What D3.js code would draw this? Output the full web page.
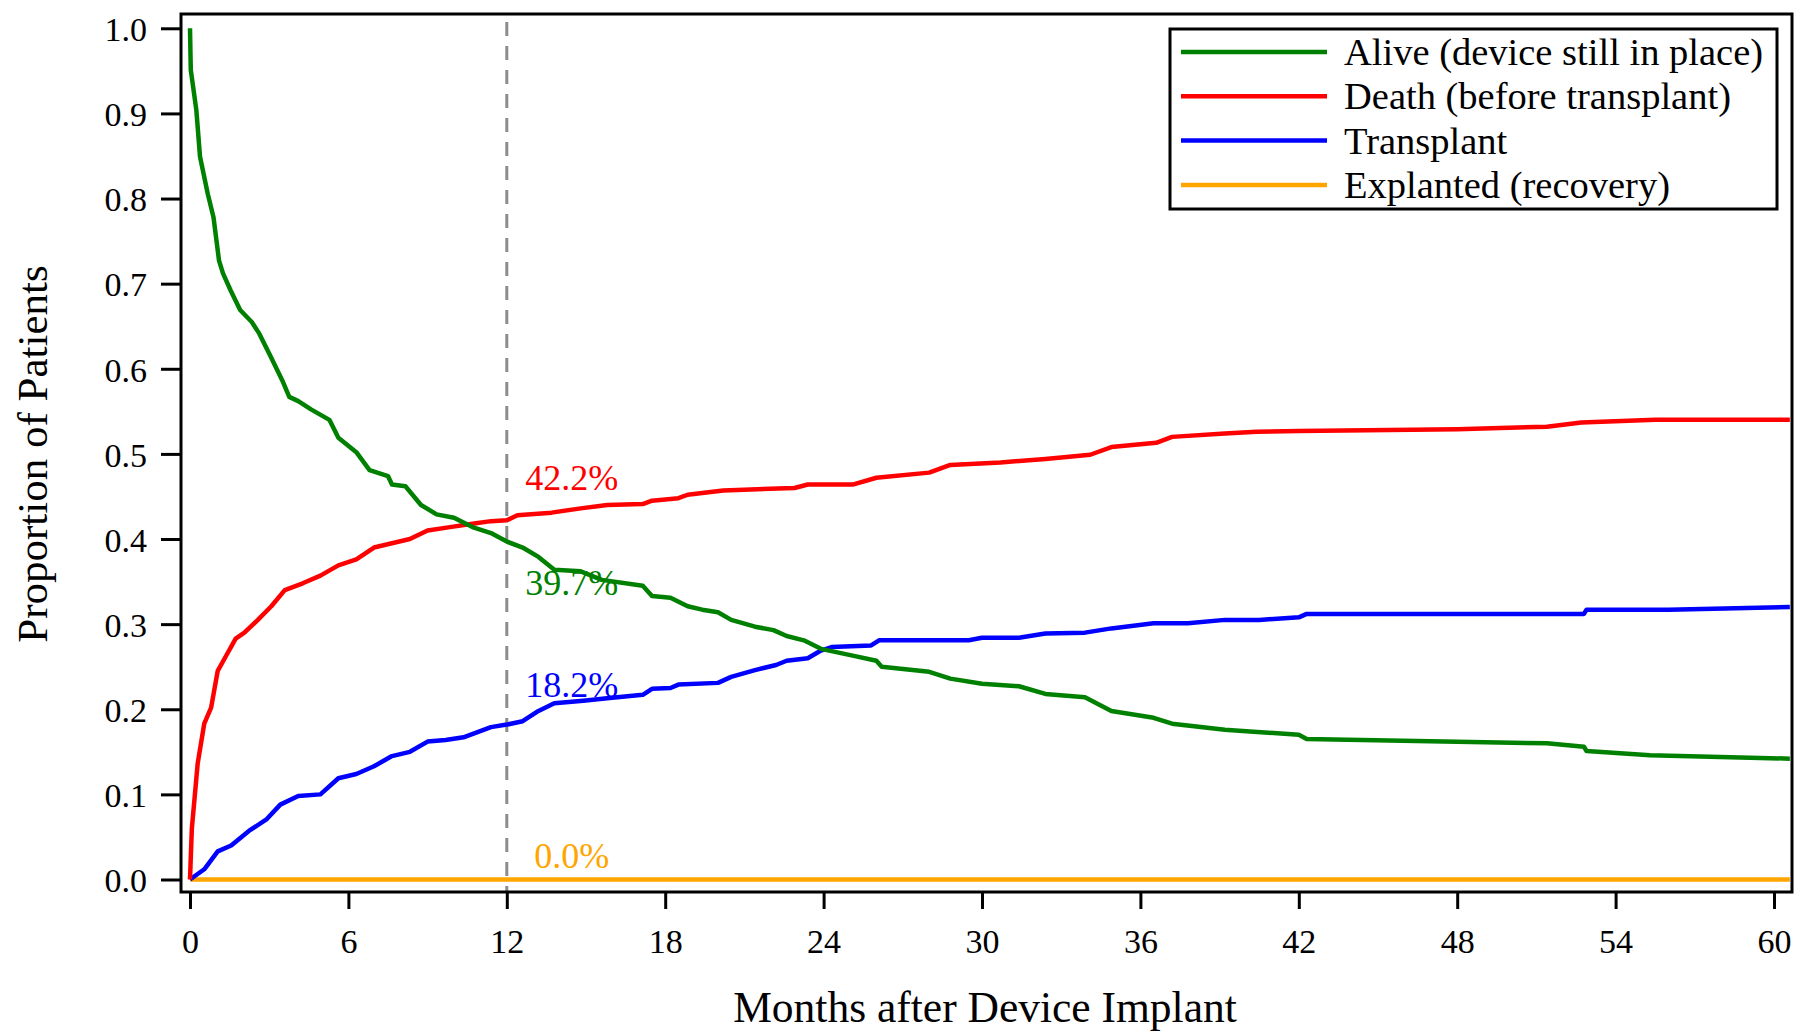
<!DOCTYPE html>
<html>
<head>
<meta charset="utf-8">
<script src="https://d3js.org/d3.v7.min.js"></script>
<style>
    body { margin: 0; background: #fff; }
    svg text { font-family: "Liberation Serif", "Times New Roman", serif; fill: #000; }
</style>
</head>
<body>
<script>
(function(){

//series, [month, proportion]
var alive = [[0,1.0],[0.03,0.951],[0.24,0.904],[0.38,0.849],[0.67,0.806],[0.89,0.778],[1.1,0.727],[1.25,0.712],
    [1.54,0.692],[1.9,0.669],[2.34,0.655],[2.63,0.641],[3.06,0.614],[3.5,0.586],[3.76,0.567],[4.1,0.562],[4.6,0.552],
    [5.28,0.540],[5.62,0.519],[6.3,0.502],[6.8,0.481],[7.5,0.474],[7.65,0.464],[8.16,0.462],[8.75,0.440],[9.34,0.429],
    [10.0,0.425],[10.7,0.414],[11.4,0.407],[12,0.397],[12.6,0.390],[13.2,0.379],[13.8,0.364],[14.8,0.362],[15.6,0.352],
    [17.15,0.345],[17.5,0.333],[18.2,0.331],[18.85,0.321],[19.4,0.317],[20.0,0.314],[20.5,0.305],[21.4,0.297],
    [22.1,0.293],[22.6,0.286],[23.25,0.281],[23.9,0.271],[25.1,0.263],[26.0,0.257],[26.2,0.250],[28,0.244],
    [28.8,0.236],[30,0.230],[31.4,0.227],[32.4,0.218],[33.9,0.214],[34.9,0.198],[36.5,0.190],[37.2,0.183],
    [39.2,0.176],[40.15,0.174],[42,0.170],[42.3,0.165],[51.4,0.160],[52.8,0.156],[52.9,0.151],[55.3,0.146],[60.6,0.142]];

var death = [[0,0],[0.07,0.06],[0.29,0.136],[0.54,0.183],[0.8,0.202],[1.05,0.245],[1.39,0.264],[1.73,0.283],
    [2.06,0.290],[2.57,0.305],[3.08,0.321],[3.59,0.340],[4.27,0.348],[4.94,0.357],[5.62,0.369],[6.3,0.376],
    [6.97,0.390],[7.65,0.395],[8.33,0.400],[9.0,0.410],[9.85,0.414],[10.7,0.418],[11.4,0.421],[12,0.422],
    [12.4,0.428],[13.7,0.431],[14.8,0.436],[15.8,0.440],[17.15,0.441],[17.5,0.445],[18.5,0.448],[18.85,0.452],
    [20.2,0.457],[22.9,0.460],[23.4,0.464],[25.1,0.464],[26.0,0.472],[28,0.478],[28.8,0.487],[30.7,0.490],
    [32.4,0.494],[34.1,0.499],[34.9,0.508],[36.6,0.513],[37.2,0.520],[39.2,0.524],[40.4,0.526],[42,0.527],
    [48,0.529],[51.4,0.532],[52.7,0.537],[55.5,0.540],[60.6,0.540]];

var transplant = [[0,0],[0.54,0.012],[1.05,0.033],[1.56,0.040],[2.23,0.057],[2.91,0.071],[3.42,0.088],[4.1,0.098],
    [4.94,0.100],[5.62,0.119],[6.3,0.124],[6.97,0.133],[7.65,0.145],[8.33,0.150],[9.0,0.162],[9.68,0.164],
    [10.36,0.167],[11.4,0.179],[12,0.182],[12.6,0.186],[13.2,0.198],[13.8,0.207],[14.9,0.210],[15.8,0.213],
    [17.15,0.217],[17.5,0.224],[18.2,0.225],[18.5,0.229],[20.0,0.231],[20.5,0.238],[21.4,0.246],[22.2,0.252],
    [22.6,0.257],[23.4,0.260],[23.9,0.269],[24.3,0.273],[25.8,0.275],[26.1,0.281],[29.5,0.281],[30,0.284],
    [31.4,0.284],[32.4,0.289],[33.9,0.290],[34.9,0.295],[36.5,0.301],[37.8,0.301],[39.2,0.305],[40.5,0.305],
    [42,0.308],[42.3,0.312],[52.8,0.312],[52.9,0.317],[56,0.317],[60.6,0.320]];

var explanted = [[0,0],[60.6,0]];

var seriesNames = ["Alive (device still in place)", "Death (before transplant)", "Transplant", "Explanted (recovery)"];
var seriesColors = ["#008000", "#ff0000", "#0000ff", "#ffa500"];
//proportions at 12 months, printed next to the reference line
var at12 = [0.397, 0.422, 0.182, 0.0];
var refMonth = 12;

var xTicks = [0, 6, 12, 18, 24, 30, 36, 42, 48, 54, 60];
var yTicks = [0, 0.1, 0.2, 0.3, 0.4, 0.5, 0.6, 0.7, 0.8, 0.9, 1.0];

window.onload = drawChart();

function drawChart(){
    var width = 1797,
        height = 1035;

    //plot frame
    var frame = {left: 181, right: 1792, top: 14, bottom: 892};

    var svg = d3.select("body")
        .append("svg")
        .attr("width", width)
        .attr("height", height);

    var x = d3.scaleLinear()
        .domain([0, 60])
        .range([190, 1774]);

    var y = d3.scaleLinear()
        .domain([0, 1])
        .range([879.5, 28.3]);

    //reference line at 12 months
    svg.append("line")
        .attr("x1", x(refMonth)).attr("x2", x(refMonth))
        .attr("y1", frame.top + 8).attr("y2", frame.bottom)
        .attr("stroke", "#8c8c8c")
        .attr("stroke-width", 3)
        .attr("stroke-dasharray", "14,10");

    var line = d3.line()
        .x(function(d){ return x(d[0]); })
        .y(function(d){ return y(d[1]); });

    var allSeries = [alive, death, transplant, explanted];

    //draw orange first so the others sit on top of it at zero
    [3, 2, 1, 0].forEach(function(i){
        svg.append("path")
            .datum(allSeries[i])
            .attr("fill", "none")
            .attr("stroke", seriesColors[i])
            .attr("stroke-width", 4.5)
            .attr("stroke-linejoin", "round")
            .attr("d", line);
    });

    //percent labels at 12 months
    var labelDy = [53, -30, -28, -12];
    svg.selectAll(".pct")
        .data(at12)
        .enter()
        .append("text")
        .attr("class", "pct")
        .attr("x", x(refMonth) + 65)
        .attr("y", function(d, i){ return y(d) + labelDy[i]; })
        .attr("text-anchor", "middle")
        .style("font-size", "36px")
        .style("fill", function(d, i){ return seriesColors[i]; })
        .text(function(d){ return d3.format(".1f")(d * 100) + "%"; });

    //frame
    svg.append("rect")
        .attr("x", frame.left)
        .attr("y", frame.top)
        .attr("width", frame.right - frame.left)
        .attr("height", frame.bottom - frame.top)
        .attr("fill", "none")
        .attr("stroke", "#000")
        .attr("stroke-width", 3);

    //y axis
    var yAxis = svg.append("g")
        .attr("transform", "translate(" + frame.left + ",0)")
        .call(d3.axisLeft(y)
            .tickValues(yTicks)
            .tickFormat(d3.format(".1f"))
            .tickSize(20)
            .tickPadding(14));
    yAxis.select(".domain").remove();
    yAxis.selectAll("line").attr("stroke", "#000").attr("stroke-width", 3);
    yAxis.selectAll("text")
        .attr("dy", "0.36em")
        .style("font-size", "34px");

    //x axis
    var xAxis = svg.append("g")
        .attr("transform", "translate(0," + frame.bottom + ")")
        .call(d3.axisBottom(x)
            .tickValues(xTicks)
            .tickSize(17));
    xAxis.select(".domain").remove();
    xAxis.selectAll("line").attr("stroke", "#000").attr("stroke-width", 3);
    xAxis.selectAll("text")
        .attr("y", 61)
        .attr("dy", 0)
        .style("font-size", "34px");

    //axis titles
    svg.append("text")
        .attr("x", 985)
        .attr("y", 1022)
        .attr("text-anchor", "middle")
        .style("font-size", "43.5px")
        .text("Months after Device Implant");

    svg.append("text")
        .attr("transform", "translate(47,454) rotate(-90)")
        .attr("text-anchor", "middle")
        .style("font-size", "43px")
        .text("Proportion of Patients");

    setLegend(svg);
};

function setLegend(svg){
    var legend = svg.append("g");

    legend.append("rect")
        .attr("x", 1170)
        .attr("y", 29)
        .attr("width", 607)
        .attr("height", 180)
        .attr("fill", "#fff")
        .attr("stroke", "#000")
        .attr("stroke-width", 3);

    var rows = legend.selectAll(".legendRow")
        .data(seriesNames)
        .enter()
        .append("g")
        .attr("class", "legendRow")
        .attr("transform", function(d, i){ return "translate(0," + (52 + i * 44.3) + ")"; });

    rows.append("line")
        .attr("x1", 1181)
        .attr("x2", 1327)
        .attr("stroke", function(d, i){ return seriesColors[i]; })
        .attr("stroke-width", 4.5);

    rows.append("text")
        .attr("x", 1344)
        .attr("y", 13)
        .style("font-size", "38.5px")
        .text(function(d){ return d; });
};

})();
</script>
</body>
</html>
